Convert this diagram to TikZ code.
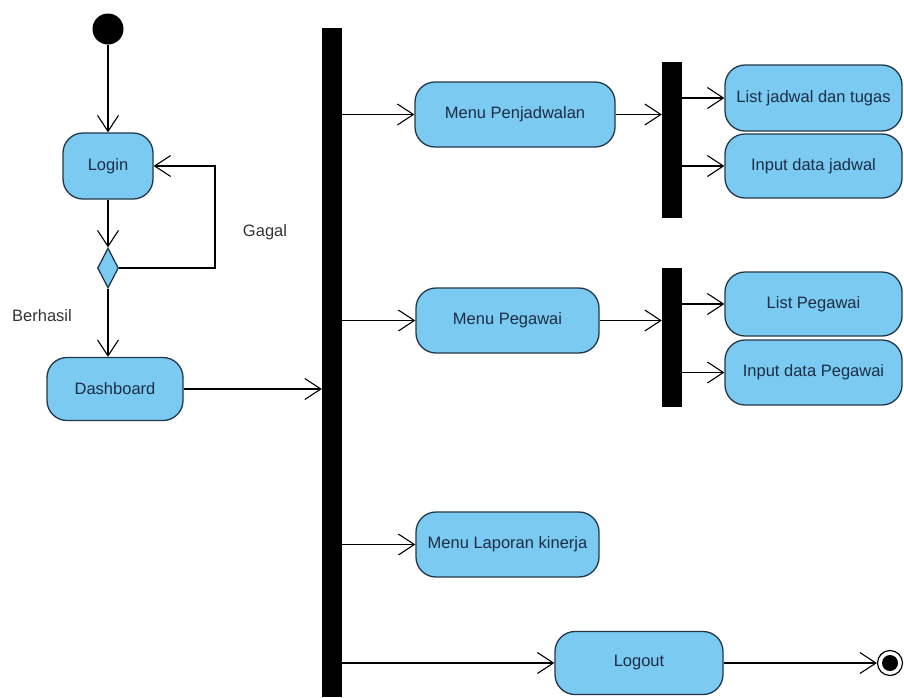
\documentclass[tikz,border=0pt]{standalone}
\usepackage{fontspec}
\setmainfont{Liberation Sans}
\usetikzlibrary{arrows.meta,shapes.geometric}
\definecolor{actfill}{RGB}{122,202,242}
\definecolor{actline}{RGB}{35,55,72}
\definecolor{acttext}{RGB}{28,45,68}
\tikzset{
  act/.style={draw=actline, line width=1.3pt, fill=actfill, rounded corners=20pt,
    text=acttext, font=\fontsize{16.5}{19}\selectfont, inner sep=2pt},
  bar/.style={fill=black, draw=none, minimum width=20pt, inner sep=0pt},
  flow/.style={line width=1.1pt, -{Straight Barb[length=16pt,width=21pt,line width=1.1pt]}},
  lbl/.style={text=black!80, font=\fontsize{16.5}{19}\selectfont}
}
\begin{document}
\begin{tikzpicture}[x=1pt,y=-1pt]
\useasboundingbox (0,0) rectangle (904,697);

% initial and final states
\node[circle, fill=black, minimum size=31pt, inner sep=0pt] (start) at (108,29) {};
\node[circle, draw=black, line width=1.2pt, fill=white, minimum size=25pt, inner sep=0pt] (final) at (890,663) {};
\node[circle, fill=black, minimum size=16pt, inner sep=0pt] (finaldot) at (final.center) {};

% left column
\node[act, minimum width=90pt, minimum height=66pt] (login) at (108,166) {Login};
\node[diamond, draw=actline, line width=1.3pt, fill=actfill, minimum width=21pt, minimum height=40pt, inner sep=0pt] (dec) at (108,268) {};
\node[act, minimum width=136pt, minimum height=63pt] (dash) at (115,389) {Dashboard};
\node[lbl] (gagal) at (265,232) {Gagal};
\node[lbl] (berhasil) at (42,316) {Berhasil};

% fork bars
\node[bar, minimum height=669pt] (fork) at (332,362.5) {};
\node[bar, minimum height=156pt] (fork1) at (672,140) {};
\node[bar, minimum height=139pt] (fork2) at (672,337.5) {};

% menu activities
\node[act, minimum width=200pt, minimum height=65pt] (menu1) at (515,114.5) {Menu Penjadwalan};
\node[act, minimum width=183pt, minimum height=65pt] (menu2) at (507.5,320.5) {Menu Pegawai};
\node[act, minimum width=183pt, minimum height=65pt] (menu3) at (507.5,544.5) {Menu Laporan kinerja};
\node[act, minimum width=168pt, minimum height=63pt] (logout) at (639,663) {Logout};

% sub-activities
\node[act, minimum width=177pt, minimum height=66pt] (list1) at (813.5,98) {List jadwal dan tugas};
\node[act, minimum width=177pt, minimum height=64pt] (input1) at (813.5,166) {Input data jadwal};
\node[act, minimum width=177pt, minimum height=64pt] (list2) at (813.5,304) {List Pegawai};
\node[act, minimum width=177pt, minimum height=65pt] (input2) at (813.5,372.5) {Input data Pegawai};

% control flows
\draw[flow] (start) -- (login);
\draw[flow] (login) -- (dec.north);
\draw[flow] (dec.east) -- (215,268) -- (215,166) -- (login.east);
\draw[flow] (dec.south) -- (dec.south |- dash.north);
\draw[flow] (dash.east) -- (dash.east -| fork.west);

\draw[flow] (fork.east |- menu1) -- (menu1.west);
\draw[flow] (fork.east |- menu2) -- (menu2.west);
\draw[flow] (fork.east |- menu3) -- (menu3.west);
\draw[flow] (fork.east |- logout) -- (logout.west);

\draw[flow] (menu1.east) -- (menu1.east -| fork1.west);
\draw[flow] (fork1.east |- list1) -- (list1.west);
\draw[flow] (fork1.east |- input1) -- (input1.west);

\draw[flow] (menu2.east) -- (menu2.east -| fork2.west);
\draw[flow] (fork2.east |- list2) -- (list2.west);
\draw[flow] (fork2.east |- input2) -- (input2.west);

\draw[flow] (logout.east) -- (final.west);
\end{tikzpicture}
\end{document}
